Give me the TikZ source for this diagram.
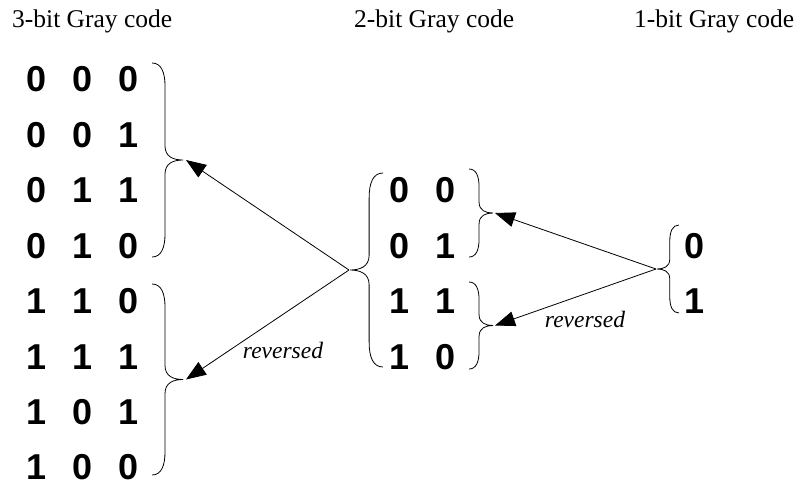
\documentclass[tikz,border=0pt]{standalone}
\usepackage{fontspec}
\setmainfont{Liberation Serif}
\setsansfont{Liberation Sans}
\usetikzlibrary{arrows.meta}

\newcommand\dg[1]{\makebox[46pt]{#1}}
% #1 x of ends, #2 y top, #3 y bottom, #4 x of tip
\newcommand\graybrace[4]{%
  \pgfmathsetmacro\gbA{#4-#1}%
  \pgfmathsetmacro\gbB{abs(\gbA)}%
  \pgfmathsetmacro\gbM{(#2+#3)/2}%
  \pgfmathsetmacro\gbV{#1+0.42*\gbA}%
  \draw[brc] (#1,#2) .. controls ({#1+0.3*\gbA},#2) and (\gbV,{#2+0.3*\gbB}) .. (\gbV,{#2+0.75*\gbB})
     -- (\gbV,{\gbM-0.45*\gbB}) .. controls (\gbV,{\gbM-0.1*\gbB}) and ({#1+0.7*\gbA},\gbM) .. (#4,\gbM)
     .. controls ({#1+0.7*\gbA},\gbM) and (\gbV,{\gbM+0.1*\gbB}) .. (\gbV,{\gbM+0.45*\gbB})
     -- (\gbV,{#3-0.75*\gbB}) .. controls (\gbV,{#3-0.3*\gbB}) and ({#1+0.3*\gbA},#3) .. (#1,#3);
}

\begin{document}
\begin{tikzpicture}[x=1pt,y=-1pt,
  title/.style={anchor=base west, inner sep=0, font=\fontsize{25.5}{30}\selectfont},
  bits/.style={inner sep=0, font=\fontsize{36}{36}\selectfont\sffamily\bfseries},
  lbl/.style={anchor=base, inner sep=0, font=\itshape\fontsize{23.5}{28}\selectfont},
  arr/.style={-{Triangle[length=20pt,width=15pt]}, line width=0.8pt},
  brc/.style={line width=0.8pt}]
\useasboundingbox (0,0) rectangle (801,483);

% titles
\node[title] (t3) at (12,27) {3-bit Gray code};
\node[title] (t2) at (354,27) {2-bit Gray code};
\node[title] (t1) at (634,27) {1-bit Gray code};

% 3-bit rows
\node[bits] (r31) at (82.5,79.5)  {\dg{0}\dg{0}\dg{0}};
\node[bits] (r32) at (82.5,135)   {\dg{0}\dg{0}\dg{1}};
\node[bits] (r33) at (82.5,190.5) {\dg{0}\dg{1}\dg{1}};
\node[bits] (r34) at (82.5,246)   {\dg{0}\dg{1}\dg{0}};
\node[bits] (r35) at (82.5,301.5) {\dg{1}\dg{1}\dg{0}};
\node[bits] (r36) at (82.5,357)   {\dg{1}\dg{1}\dg{1}};
\node[bits] (r37) at (82.5,412)   {\dg{1}\dg{0}\dg{1}};
\node[bits] (r38) at (82.5,467)   {\dg{1}\dg{0}\dg{0}};

% 2-bit rows
\node[bits] (r21) at (423,190.5) {\dg{0}\dg{0}};
\node[bits] (r22) at (423,246)   {\dg{0}\dg{1}};
\node[bits] (r23) at (423,301.5) {\dg{1}\dg{1}};
\node[bits] (r24) at (423,357)   {\dg{1}\dg{0}};

% 1-bit rows
\node[bits] (r11) at (695,246)   {\dg{0}};
\node[bits] (r12) at (695,301.5) {\dg{1}};

% braces
\graybrace{152}{63}{257}{183}
\graybrace{152}{284}{475}{183}
\graybrace{383}{173}{367}{350}
\graybrace{469}{169}{257}{493}
\graybrace{469}{282}{369}{493}
\graybrace{679}{225}{313}{657}

% brace tips
\coordinate (b3U) at (186,160);
\coordinate (b3D) at (186,379.5);
\coordinate (b2L) at (349,270);
\coordinate (b2U) at (495,213);
\coordinate (b2D) at (495,325.5);
\coordinate (b1)  at (656,269);

% connectors
\draw[arr] (b2L) -- (b3U);
\draw[arr] (b2L) -- (b3D);
\draw[arr] (b1) -- (b2U);
\draw[arr] (b1) -- (b2D);

% labels
\node[lbl] (rv1) at (283,358) {reversed};
\node[lbl] (rv2) at (585,327) {reversed};
\end{tikzpicture}
\end{document}
